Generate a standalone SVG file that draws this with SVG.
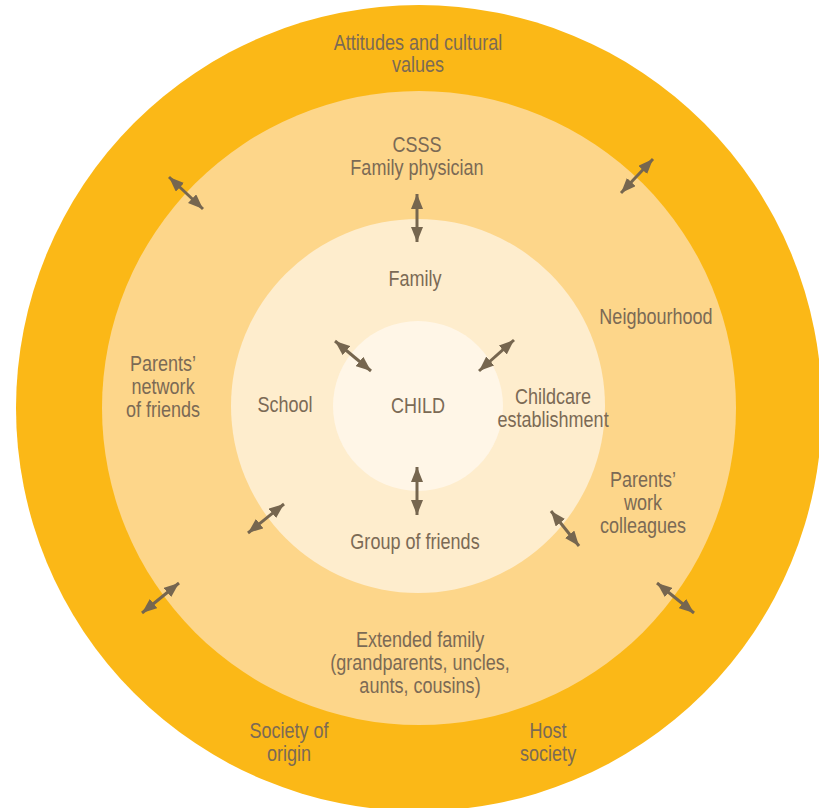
<svg xmlns="http://www.w3.org/2000/svg" width="819" height="808" viewBox="0 0 819 808">
  <style>
    .lbl { font-family: "Liberation Sans", Arial, sans-serif; font-size: 22px; fill: #7B6A55; text-anchor: middle;
           transform-box: fill-box; transform-origin: center; transform: scaleX(0.82); }
    .link { stroke: #76664F; stroke-width: 3; fill: none; marker-start: url(#head); marker-end: url(#head); }
  </style>
  <defs>
    <marker id="head" markerUnits="userSpaceOnUse" markerWidth="15" markerHeight="12" refX="15" refY="6" orient="auto-start-reverse" viewBox="0 0 15 12">
      <path d="M0,0 L15,6 L0,12 z" fill="#76664F"/>
    </marker>
  </defs>

  <rect width="819" height="808" fill="#FFFFFF"/>

  <!-- concentric rings, outermost first -->
  <g id="rings">
    <circle id="ring-society" cx="419" cy="408" r="403" fill="#FBB817"/>
    <circle id="ring-community" cx="419" cy="408" r="317" fill="#FDD68A"/>
    <circle id="ring-surroundings" cx="418" cy="406" r="187" fill="#FEEDCD"/>
    <circle id="ring-child" cx="418" cy="406" r="85" fill="#FFF6E7"/>
  </g>

  <!-- society ring labels -->
  <g id="society">
    <text class="lbl" x="418" y="50">Attitudes and cultural</text>
    <text class="lbl" x="418" y="72">values</text>
    <text class="lbl" x="289" y="738">Society of</text>
    <text class="lbl" x="289" y="761">origin</text>
    <text class="lbl" x="548" y="738">Host</text>
    <text class="lbl" x="548" y="761">society</text>
  </g>

  <!-- community ring labels -->
  <g id="community">
    <text class="lbl" x="417" y="152">CSSS</text>
    <text class="lbl" x="417" y="175">Family physician</text>
    <text class="lbl" x="656" y="324">Neigbourhood</text>
    <text class="lbl" x="163" y="371">Parents’</text>
    <text class="lbl" x="163" y="394">network</text>
    <text class="lbl" x="163" y="417">of friends</text>
    <text class="lbl" x="643" y="487">Parents’</text>
    <text class="lbl" x="643" y="510">work</text>
    <text class="lbl" x="643" y="533">colleagues</text>
    <text class="lbl" x="420" y="647">Extended family</text>
    <text class="lbl" x="420" y="670">(grandparents, uncles,</text>
    <text class="lbl" x="420" y="693">aunts, cousins)</text>
  </g>

  <!-- immediate surroundings labels -->
  <g id="surroundings">
    <text class="lbl" x="415" y="286">Family</text>
    <text class="lbl" x="285" y="412">School</text>
    <text class="lbl" x="553" y="404">Childcare</text>
    <text class="lbl" x="553" y="427">establishment</text>
    <text class="lbl" x="415" y="549">Group of friends</text>
  </g>

  <!-- centre -->
  <g id="child">
    <text class="lbl" x="418" y="413">CHILD</text>
  </g>

  <!-- two-way influences -->
  <g id="connectors">
    <line class="link" x1="169" y1="177" x2="203" y2="209"/>
    <line class="link" x1="653" y1="159" x2="621" y2="193"/>
    <line class="link" x1="179" y1="583" x2="142" y2="613"/>
    <line class="link" x1="657" y1="583" x2="694" y2="613"/>
    <line class="link" x1="417" y1="194" x2="417" y2="242"/>
    <line class="link" x1="335" y1="341" x2="371" y2="371"/>
    <line class="link" x1="514" y1="340" x2="479" y2="371"/>
    <line class="link" x1="417" y1="467" x2="417" y2="515"/>
    <line class="link" x1="284" y1="504" x2="248" y2="533"/>
    <line class="link" x1="551" y1="511" x2="579" y2="546"/>
  </g>
</svg>
